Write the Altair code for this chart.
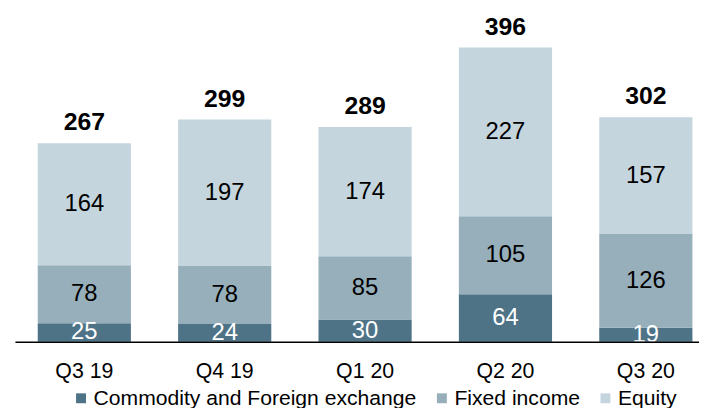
import altair as alt
import pandas as pd

quarters = ["Q3 19", "Q4 19", "Q1 20", "Q2 20", "Q3 20"]
series = ["Commodity and Foreign exchange", "Fixed income", "Equity"]
commodity = [25, 24, 30, 64, 19]
fixed_income = [78, 78, 85, 105, 126]
equity = [164, 197, 174, 227, 157]
totals = [267, 299, 289, 396, 302]
colors = ["#4e7387", "#97aebb", "#c4d5de"]

rows = []
for i, q in enumerate(quarters):
    for k, (s, vals) in enumerate(zip(series, [commodity, fixed_income, equity])):
        rows.append({"quarter": q, "series": s, "value": vals[i], "order": k})
df = pd.DataFrame(rows)
tot = pd.DataFrame({"quarter": quarters, "total": totals})

FONT = "Liberation Sans"

xscale = alt.Scale(paddingInner=0.3362, paddingOuter=0.1046, align=0.776)
xaxis = alt.Axis(title=None, labelFontSize=21.5, labelFont=FONT, labelColor="black",
                 ticks=False, domainColor="black", domainWidth=1.5, labelPadding=19,
                 labelAngle=0, zindex=1)
x = alt.X("quarter:N", sort=quarters, scale=xscale, axis=xaxis)
yscale = alt.Scale(domain=[0, 446.7], nice=False)

bars = alt.Chart(df).mark_bar().encode(
    x=x,
    y=alt.Y("value:Q", stack="zero", scale=yscale, axis=None),
    color=alt.Color("series:N", sort=series,
                    scale=alt.Scale(domain=series, range=colors),
                    legend=alt.Legend(title=None, orient="none", legendX=56, legendY=382,
                                      direction="horizontal",
                                      symbolType="M-1,-1.15H1V0.85H-1Z",
                                      symbolSize=100, symbolStrokeWidth=0,
                                      labelFontSize=21.3, labelFont=FONT, labelColor="black",
                                      labelOffset=2, columnPadding=15, padding=0,
                                      labelLimit=0)),
    order=alt.Order("order:Q"),
)

seg_labels = alt.Chart(df).transform_stack(
    stack="value", groupby=["quarter"], sort=[alt.SortField("order")], as_=["y0", "y1"]
).transform_calculate(
    mid="(datum.y0 + datum.y1) / 2"
).mark_text(fontSize=24, font=FONT, baseline="middle", clip=True).encode(
    x=x,
    y=alt.Y("mid:Q", scale=yscale, axis=None),
    text=alt.Text("value:Q"),
    color=alt.condition(alt.datum.order == 0, alt.value("white"), alt.value("black")),
)

total_labels = alt.Chart(tot).mark_text(fontSize=25, font=FONT, fontWeight="bold",
                                        baseline="alphabetic", dy=-13, color="black").encode(
    x=x,
    y=alt.Y("total:Q", scale=yscale, axis=None),
    text=alt.Text("total:Q"),
)

chart = alt.layer(bars, seg_labels, total_labels).properties(
    width=690, height=335,
    autosize=alt.AutoSizeParams(type="none"),
    padding={"left": 7, "top": 0, "right": 0, "bottom": 65},
).configure_view(stroke=None)

chart.save("out.html", embed_options={"renderer": "svg", "actions": False})
